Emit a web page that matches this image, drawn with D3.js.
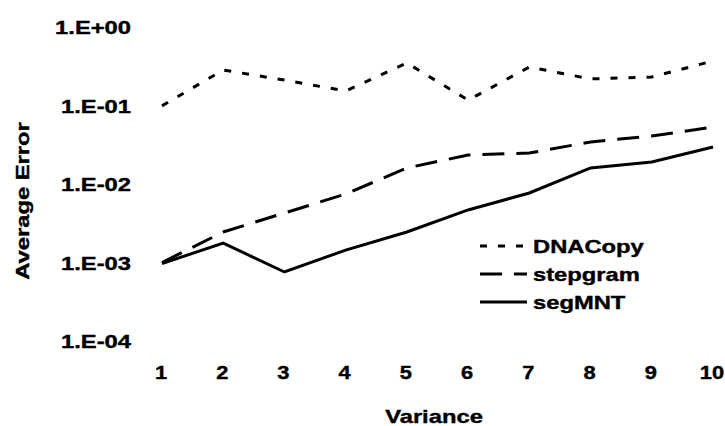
<!DOCTYPE html>
<html>
<head>
	<meta charset="utf-8">
	<title>Average Error vs Variance</title>
	<script src="https://d3js.org/d3.v7.min.js"></script>
	<style>
		body { margin: 0; background: #fff; }
		text { font-family: "Liberation Sans", Arial, sans-serif; font-weight: bold; fill: #000; stroke: #000; stroke-width: 0.4px; }
	</style>
</head>
<body>
	<div class="chart"></div>

	<script type="text/javascript">

		// 数据
		const variance = [1, 2, 3, 4, 5, 6, 7, 8, 9, 10]
		const dnaCopy = [0.099, 0.283, 0.211, 0.153, 0.348, 0.117, 0.309, 0.218, 0.231, 0.369]
		const stepgram = [0.001, 0.00245, 0.00427, 0.00746, 0.016, 0.0234, 0.0248, 0.0343, 0.0409, 0.0532]
		const segMNT = [0.00097, 0.00177, 0.000757, 0.00144, 0.00245, 0.00467, 0.00768, 0.016, 0.0191, 0.0296]
		const yTicks = [1e-4, 1e-3, 1e-2, 1e-1, 1]
		const seriesNames = ['DNACopy', 'stepgram', 'segMNT']

		var width = 725
		var height = 426
		var sx = 1.25   // 原图文字被横向拉伸

		var svg = d3
			.select('.chart')
			.append('svg')
			.attr('width', width)
			.attr('height', height)

		/**
		 * 比例尺
		 */
		const x = d3.scaleLinear().domain([1, 10]).range([162, 713])
		const y = d3.scaleLog().domain([1e-4, 1]).range([341, 27])

		const fmt = (d) => {
			const e = Math.round(Math.log10(d))
			return '1.E' + (e < 0 ? '-' : '+') + String(Math.abs(e)).padStart(2, '0')
		}

		/**
		 * 坐标轴（不画轴线）
		 */
		const yAxis = svg.append('g')
			.attr('transform', 'translate(131,0)')
			.call(d3.axisLeft(y).tickValues(yTicks).tickFormat(fmt).tickSize(0).tickPadding(0))
		yAxis.select('.domain').remove()
		yAxis.selectAll('text')
			.attr('x', 0)
			.attr('dy', '0.35em')
			.attr('transform', `scale(${sx},1)`)
			.style('font-size', '19px')
			.attr('font-family', null)

		const xAxis = svg.append('g')
			.attr('transform', 'translate(-1.5,372)')
			.call(d3.axisBottom(x).tickValues(variance).tickFormat(d3.format('d')).tickSize(0))
		xAxis.select('.domain').remove()
		xAxis.selectAll('text')
			.attr('y', 0)
			.attr('dy', '0.35em')
			.attr('transform', 'scale(1.15,1)')
			.style('font-size', '19px')
			.attr('font-family', null)

		// 轴标题
		svg.append('text')
			.attr('transform', `translate(434,416) scale(${sx},1)`)
			.attr('text-anchor', 'middle')
			.attr('dy', '0.35em')
			.style('font-size', '19px')
			.text('Variance')

		svg.append('text')
			.attr('transform', `translate(29,201) rotate(-90) scale(${sx},1)`)
			.attr('text-anchor', 'middle')
			.style('font-size', '19px')
			.text('Average Error')

		/**
		 * 折线
		 */
		const dashes = ['7,11', '22,12', null]
		const allSeries = [dnaCopy, stepgram, segMNT]

		const line = d3.line()
			.x((d, i) => x(variance[i]))
			.y((d) => y(d))

		svg.append('g')
			.selectAll('path')
			.data(allSeries)
			.join('path')
			.attr('d', line)
			.attr('fill', 'none')
			.attr('stroke', '#000')
			.attr('stroke-width', 3)
			.attr('stroke-dasharray', (d, i) => dashes[i])

		/**
		 * 图例
		 */
		const legend = svg.append('g')
			.selectAll('g')
			.data(seriesNames)
			.join('g')
			.attr('transform', (d, i) => `translate(480,${246 + i * 28})`)

		legend.append('line')
			.attr('x1', 0)
			.attr('x2', 47)
			.attr('stroke', '#000')
			.attr('stroke-width', 3)
			.attr('stroke-dasharray', (d, i) => dashes[i])

		legend.append('text')
			.attr('transform', `translate(53,0) scale(${sx},1)`)
			.attr('dy', '0.35em')
			.style('font-size', '19px')
			.text((d) => d)

	</script>
</body>
</html>
